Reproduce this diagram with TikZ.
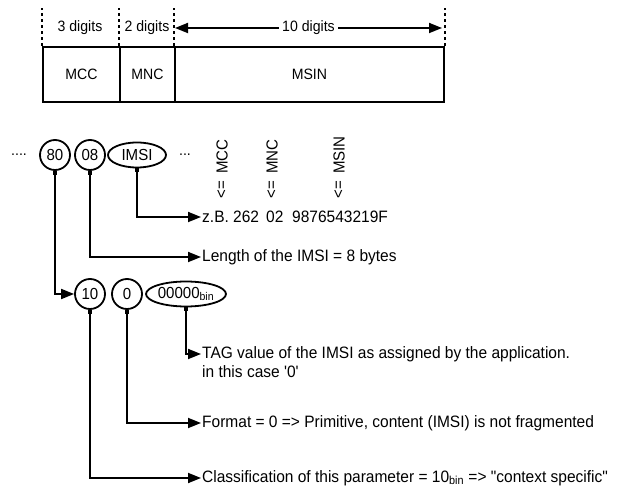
\documentclass[tikz,border=0pt]{standalone}
\usepackage{fontspec}
\setsansfont{Liberation Sans}[FakeStretch=0.94,Ligatures=TeXOff]
\usetikzlibrary{arrows.meta,positioning,shapes.geometric}

\begin{document}
\begin{tikzpicture}[
  x=1pt, y=-1pt,
  font=\sffamily\fontsize{15}{17}\selectfont,
  >={Triangle[length=13pt,width=10pt]},
  field/.style={draw, line width=1.8pt, minimum height=55pt, inner sep=0pt, anchor=north west},
  bytebox/.style={draw, circle, line width=1.8pt, minimum size=30pt, inner sep=0pt,
    font=\sffamily\fontsize{16}{18}\selectfont},
  wordbox/.style={draw, ellipse, line width=1.8pt, minimum height=25pt, inner sep=0pt,
    font=\sffamily\fontsize{16}{18}\selectfont},
  digitmark/.style={line width=1.8pt, dash pattern=on 3pt off 3pt},
  span/.style={<->, line width=1.8pt},
  explain/.style={anchor=west, inner sep=1pt, font=\sffamily\fontsize{16.5}{18}\selectfont},
  sidelabel/.style={rotate=90, inner sep=0pt, font=\sffamily\fontsize{16}{18}\selectfont},
  conn/.style={{Square[length=4pt,width=4pt]}->, line width=1.8pt}
]
\useasboundingbox (0,0) rectangle (627,494);
% IMSI layout
\node[field, minimum width=77pt] (mcc) at (42,46) {MCC};
\node[field, minimum width=55pt] (mnc) at (119,46) {MNC};
\node[field, minimum width=269pt] (msin) at (174,46) {MSIN};
\foreach \n in {mcc.north west, mnc.north west, msin.north west, msin.north east}
  \draw[digitmark] (\n) -- ++(0,-38);
\node (d3) at (80,28) {3 digits};
\node (d2) at (147,28) {2 digits};
\coordinate (sl) at (175,28);
\coordinate (sr) at (442,28);
\draw[span] (sl) -- (sr) node[midway, fill=white, inner sep=3pt] (d10) {10 digits};
% TLV bytes
\node (dots1) at (19,155) {....};
\node[bytebox] (b80) at (55,155) {80};
\node[bytebox] (b08) at (90,155) {08};
\node[wordbox, minimum width=58pt] (imsi) at (137,155) {IMSI};
\node (dots2) at (185,155) {...};
\node[sidelabel, anchor=west] (lmcc) at (222,174) {MCC};
\node[sidelabel, anchor=west] (lmnc) at (272,174) {MNC};
\node[sidelabel, anchor=west] (lmsin) at (339,174) {MSIN};
\foreach \x/\n in {222/amcc, 272/amnc, 339/amsin}
  \node[sidelabel, anchor=east] (\n) at (\x,181) {<=};
\node[explain] (zb) at (201,217) {z.B. 262};
\node[explain] (no02) at (265,217) {02};
\node[explain] (nomsin) at (291,217) {9876543219F};
\node[explain] (len) at (201,257) {Length of the IMSI = 8 bytes};
% tag byte
\node[bytebox] (b10) at (90,294) {10};
\node[bytebox] (b0) at (127,294) {0};
\node[wordbox, minimum width=80pt] (tagv) at (186,294) {00000\textsubscript{bin}};
\node[explain] (tag) at (201,354) {TAG value of the IMSI as assigned by the application.};
\node[explain] (tagcase) at (201,372) {in this case '0'};
\node[explain] (fmt) at (201,423) {Format = 0 => Primitive, content (IMSI) is not fragmented};
\node[explain] (cls) at (201,478) {Classification of this parameter = 10\textsubscript{bin} => "context specific"};
\draw[conn] (imsi.south) |- (zb.west);
\draw[conn] (b08.south) |- (len.west);
\draw[conn] (b80.south) |- (b10.west);
\draw[conn] (tagv.south) |- (tag.west);
\draw[conn] (b0.south) |- (fmt.west);
\draw[conn] (b10.south) |- (cls.west);
\end{tikzpicture}
\end{document}
